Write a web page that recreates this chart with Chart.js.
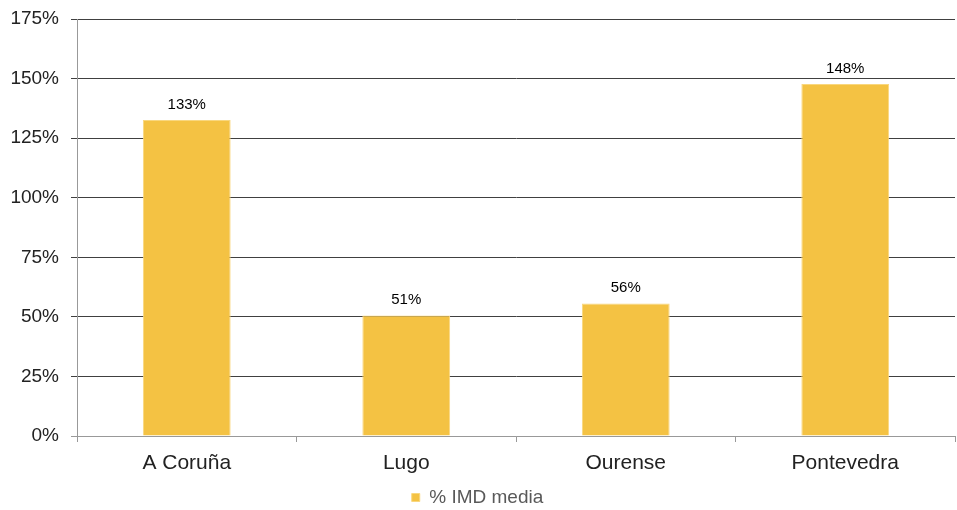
<!DOCTYPE html>
<html>
<head>
<meta charset="utf-8">
<script src="https://cdn.jsdelivr.net/npm/chart.js@4/dist/chart.umd.min.js"></script>
<style>
  body { margin: 0; background: #fff; }
  #wrap { width: 957px; height: 510px; }
</style>
</head>
<body>
<div id="wrap"><canvas id="imdChart" width="957" height="510"></canvas></div>
<script>
// provinces and their share of the average IMD
const provinces = ["A Coruña", "Lugo", "Ourense", "Pontevedra"];
const imdValues = [132.6, 50.6, 55.6, 147.7];
const imdLabels = ["133%", "51%", "56%", "148%"];
const seriesName = "% IMD media";

const barColor = "#F4C243";
const fontFamily = "'Liberation Sans', Arial, sans-serif";

// draw the value above each bar
const valueLabels = {
    id: "valueLabels",
    afterDatasetsDraw(chart) {
        const ctx = chart.ctx;
        const meta = chart.getDatasetMeta(0);
        ctx.save();
        ctx.font = "15px " + fontFamily;
        ctx.fillStyle = "#000";
        ctx.textAlign = "center";
        ctx.textBaseline = "bottom";
        meta.data.forEach((bar, i) => {
            ctx.fillText(imdLabels[i], bar.x, bar.y - 8);
        });
        ctx.restore();
    }
};

new Chart(document.getElementById("imdChart"), {
    type: "bar",
    data: {
        labels: provinces,
        datasets: [{
            label: seriesName,
            data: imdValues,
            backgroundColor: barColor,
            borderColor: "#F9D77E",
            borderWidth: 1,
            categoryPercentage: 0.8,
            barPercentage: 0.5
        }]
    },
    options: {
        responsive: false,
        animation: false,
        layout: { padding: { top: 19, right: 2, bottom: -7, left: 0 } },
        plugins: {
            legend: {
                position: "bottom",
                labels: {
                    boxWidth: 8,
                    boxHeight: 8,
                    padding: 6,
                    color: "#595959",
                    font: { size: 19, family: fontFamily }
                }
            },
            tooltip: { enabled: false }
        },
        scales: {
            x: {
                grid: {
                    drawOnChartArea: false,
                    tickLength: 6,
                    color: "#999"
                },
                border: { color: "#999", width: 1 },
                ticks: {
                    color: "#222",
                    padding: 9,
                    font: { size: 21, family: fontFamily }
                },
                afterFit(scale) { scale.height = 46; }
            },
            y: {
                min: 0,
                max: 175,
                ticks: {
                    stepSize: 25,
                    color: "#222",
                    padding: 12,
                    font: { size: 19, family: fontFamily },
                    callback: v => v + "%"
                },
                grid: {
                    tickLength: 6,
                    color: ctx => ctx.tick && ctx.tick.value === 0 ? "#999" : "#404040"
                },
                border: { color: "#999", width: 1 },
                afterFit(scale) {
                    scale.width = 77;
                    scale.paddingTop = 0;
                    scale.paddingBottom = 0;
                }
            }
        }
    },
    plugins: [valueLabels]
});
</script>
</body>
</html>
